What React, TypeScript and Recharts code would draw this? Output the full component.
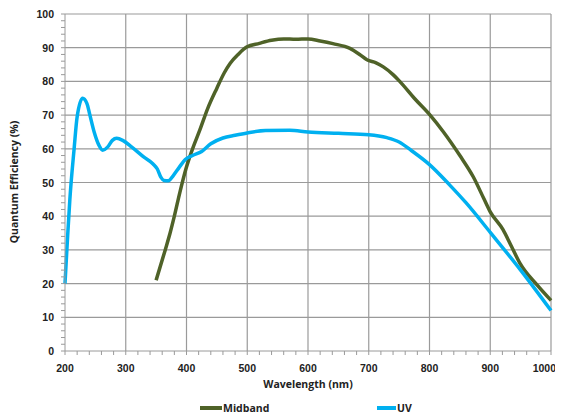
import React from "react";
import { LineChart, Line, XAxis, YAxis, ReferenceLine } from "recharts";

const uvWavelengths = [200, 204, 208, 215, 220, 229, 236, 241, 248, 256, 262, 270, 278, 285, 295, 310, 330, 345, 352, 358, 363, 370, 378, 388, 398, 410, 425, 440, 460, 480, 500, 530, 570, 600, 650, 700, 730, 750, 770, 800, 833, 860, 900, 950, 1000];
const uvValues = [20, 33, 45, 60, 69.5, 75, 73.5, 70, 65, 61, 59.6, 60.5, 62.5, 63.1, 62.5, 60.5, 57.5, 55.5, 54, 51.5, 50.6, 50.5, 52, 54.5, 56.8, 58, 59.2, 61.5, 63.2, 64, 64.7, 65.4, 65.5, 65, 64.6, 64.2, 63.3, 62, 59.5, 55.3, 49.3, 44, 35.2, 24, 12];

const midWavelengths = [350, 365, 373, 380, 389, 399, 410, 422, 435, 450, 462, 472, 485, 499, 520, 540, 560, 580, 600, 620, 641, 669, 685, 697, 712, 724, 740, 751, 775, 801, 823, 850, 872, 890, 900, 921, 935, 949, 977, 1000];
const midValues = [21, 30, 35, 40, 47, 54, 60, 65.6, 72, 78, 82.5, 85.4, 88, 90.2, 91.3, 92.2, 92.6, 92.5, 92.6, 92, 91.2, 89.8, 88, 86.4, 85.5, 84.3, 82, 80, 75, 70, 65, 58, 51.7, 45, 41.3, 36, 31, 26, 19.6, 15];

const xMajorTicks = [200, 300, 400, 500, 600, 700, 800, 900, 1000];
const yMajorTicks = [0, 10, 20, 30, 40, 50, 60, 70, 80, 90, 100];
const xAllTicks: number[] = [];
for (let v = 200; v <= 1000; v += 20) xAllTicks.push(v);
const yAllTicks: number[] = [];
for (let v = 0; v <= 100; v += 2) yAllTicks.push(v);

const uvData = uvWavelengths.map((w, i) => ({ w, uv: uvValues[i] }));
const midData = midWavelengths.map((w, i) => ({ w, mid: midValues[i] }));

const MID_COLOR = "#4F6228";
const UV_COLOR = "#00B0F0";
const GRID = "#9a9a9a";
const FONT = "'Open Sans', 'Liberation Sans', sans-serif";
const TICK_FONT = "'Liberation Sans', Arial, sans-serif";
const LAST_X = xMajorTicks[xMajorTicks.length - 1];

const XTick = (props: any) => {
  const { x, y, payload } = props;
  const major = payload.value % 100 === 0;
  const isLast = payload.value === LAST_X;
  return (
    <g>
      <line x1={x} x2={x} y1={y} y2={y + 4} stroke={GRID} strokeWidth={1} />
      {major && (
        <text
          x={isLast ? x + 5 : x}
          y={y + 21}
          textAnchor={isLast ? "end" : "middle"}
          fontSize={10.5}
          fontWeight="bold"
          fill="#222"
          fontFamily={TICK_FONT}
        >
          {payload.value}
        </text>
      )}
    </g>
  );
};

const YTick = (props: any) => {
  const { x, y, payload } = props;
  const major = payload.value % 10 === 0;
  return (
    <g>
      <line x1={x - 4} x2={x} y1={y} y2={y} stroke={GRID} strokeWidth={1} />
      {major && (
        <text x={x - 11} y={y + 4} textAnchor="end" fontSize={10.5} fontWeight="bold" fill="#222" fontFamily={TICK_FONT}>
          {payload.value}
        </text>
      )}
    </g>
  );
};

export default function App() {
  return (
    <div style={{ position: "relative", width: 555, height: 404, fontFamily: FONT }}>
      <style>{".recharts-surface{overflow:visible !important} body{overflow:hidden}"}</style>
      <LineChart width={555} height={404} margin={{ top: 6, right: 12, left: 17, bottom: 21 }}>
        <XAxis
          dataKey="w"
          type="number"
          domain={[200, 1000]}
          ticks={xAllTicks}
          interval={0}
          allowDuplicatedCategory={false}
          tickLine={false}
          tickSize={0}
          tickMargin={0}
          tick={<XTick />}
          axisLine={{ stroke: GRID }}
          height={40}
        />
        <YAxis
          type="number"
          domain={[0, 100]}
          ticks={yAllTicks}
          interval={0}
          tickLine={false}
          tickSize={0}
          tickMargin={0}
          tick={<YTick />}
          axisLine={{ stroke: GRID }}
          width={40}
        />
        {xMajorTicks.slice(1).map((v) => (
          <ReferenceLine key={"x" + v} x={v} stroke={GRID} strokeWidth={1.2} />
        ))}
        {yMajorTicks.slice(1).map((v) => (
          <ReferenceLine key={"y" + v} y={v} stroke={GRID} strokeWidth={1.2} />
        ))}
        <Line data={midData} dataKey="mid" type="monotone" stroke={MID_COLOR} strokeWidth={3.5} dot={false} isAnimationActive={false} />
        <Line data={uvData} dataKey="uv" type="monotone" stroke={UV_COLOR} strokeWidth={3.5} dot={false} isAnimationActive={false} />
      </LineChart>
      <div style={{ position: "absolute", left: 300, top: 369, transform: "translateX(-50%)", fontSize: 10.5, fontWeight: "bold", color: "#222", whiteSpace: "nowrap" }}>
        Wavelength (nm)
      </div>
      <div style={{ position: "absolute", left: 6, top: 174, transform: "translate(-50%, -50%) rotate(-90deg)", fontSize: 10.5, fontWeight: "bold", color: "#222", whiteSpace: "nowrap" }}>
        Quantum Efficiency (%)
      </div>
      <div style={{ position: "absolute", left: 192, top: 393, display: "flex", alignItems: "center", fontSize: 10.5, fontWeight: "bold", color: "#222" }}>
        <span style={{ display: "inline-block", width: 22, height: 4, background: MID_COLOR, marginRight: 1 }} />
        Midband
      </div>
      <div style={{ position: "absolute", left: 369, top: 393, display: "flex", alignItems: "center", fontSize: 10.5, fontWeight: "bold", color: "#222" }}>
        <span style={{ display: "inline-block", width: 19, height: 4, background: UV_COLOR, marginRight: 1 }} />
        UV
      </div>
    </div>
  );
}
